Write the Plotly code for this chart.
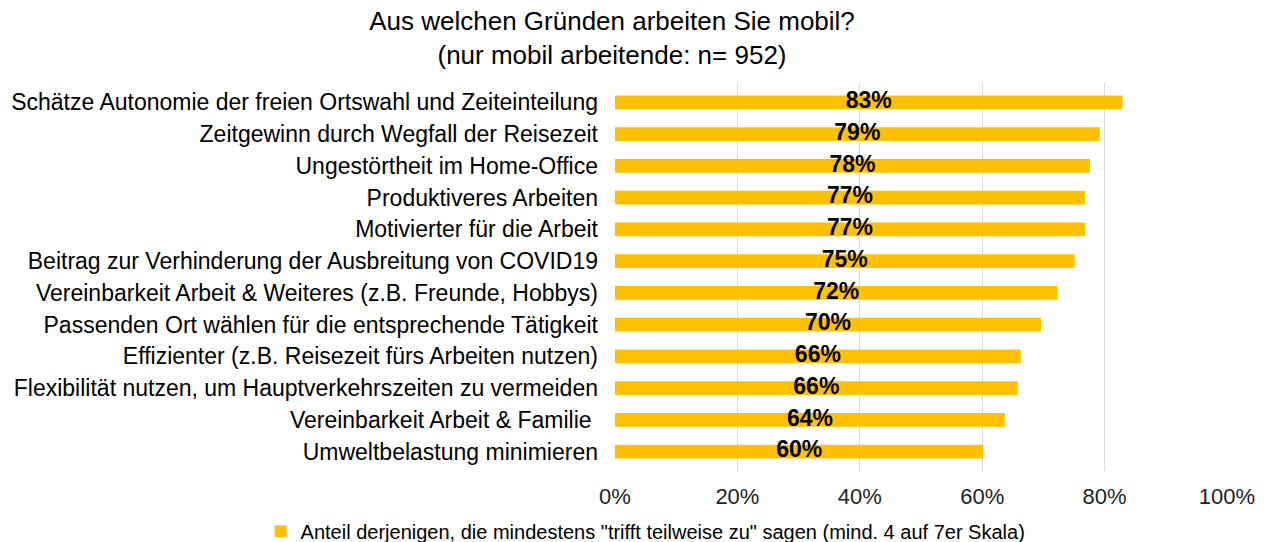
import plotly.graph_objects as go

categories = [
    "Schätze Autonomie der freien Ortswahl und Zeiteinteilung",
    "Zeitgewinn durch Wegfall der Reisezeit",
    "Ungestörtheit im Home-Office",
    "Produktiveres Arbeiten",
    "Motivierter für die Arbeit",
    "Beitrag zur Verhinderung der Ausbreitung von COVID19",
    "Vereinbarkeit Arbeit & Weiteres (z.B. Freunde, Hobbys)",
    "Passenden Ort wählen für die entsprechende Tätigkeit",
    "Effizienter (z.B. Reisezeit fürs Arbeiten nutzen)",
    "Flexibilität nutzen, um Hauptverkehrszeiten zu vermeiden",
    "Vereinbarkeit Arbeit & Familie ",
    "Umweltbelastung minimieren",
]
values = [82.9, 79.2, 77.6, 76.8, 76.8, 75.1, 72.3, 69.6, 66.3, 65.8, 63.7, 60.2]
labels = ["83%", "79%", "78%", "77%", "77%", "75%", "72%", "70%", "66%", "66%", "64%", "60%"]
x_ticks = [0, 20, 40, 60, 80, 100]
x_tick_labels = ["0%", "20%", "40%", "60%", "80%", "100%"]
series_name = 'Anteil derjenigen, die mindestens "trifft teilweise zu" sagen (mind. 4 auf 7er Skala)'
title_text = "Aus welchen Gründen arbeiten Sie mobil?<br>(nur mobil arbeitende: n= 952)"

FONT = "Liberation Sans, Arial, sans-serif"

fig = go.Figure()
fig.add_trace(go.Bar(
    x=values, y=categories, orientation="h",
    marker=dict(color="#FFC000", line=dict(width=0)),
    name=series_name, showlegend=True,
    hoverinfo="x+y",
))
fig.add_trace(go.Scatter(
    x=[v / 2 for v in values], y=categories, mode="text",
    text=labels, textposition="middle center",
    textfont=dict(family=FONT, size=23, color="#000000", weight="bold"),
    showlegend=False, hoverinfo="skip", cliponaxis=False,
))

fig.update_layout(
    width=1266, height=542,
    margin=dict(l=615, r=39, t=83, b=71, autoexpand=False),
    paper_bgcolor="white", plot_bgcolor="white",
    font=dict(family=FONT, color="#000000"),
    title=dict(text=title_text, x=612 / 1266, xanchor="center",
               yref="container", y=1 - 30 / 542, yanchor="middle",
               font=dict(family=FONT, size=26, color="#000000")),
    bargap=0.57,
    showlegend=True,
    legend=dict(orientation="h", x=0.05, xanchor="center", y=-0.155, yanchor="middle",
                font=dict(family=FONT, size=20, color="#000000"),
                itemwidth=30, bgcolor="rgba(0,0,0,0)"),
)
fig.update_xaxes(
    range=[0, 100], tickvals=x_ticks, ticktext=x_tick_labels,
    showgrid=True, gridcolor="#d9d9d9", gridwidth=1,
    zeroline=False, showline=False, ticks="",
    tickfont=dict(family=FONT, size=22, color="#222222"),
    ticklabelstandoff=10, fixedrange=True,
)
fig.update_yaxes(
    categoryorder="array", categoryarray=categories, autorange="reversed",
    showgrid=False, zeroline=False, showline=False, ticks="",
    tickfont=dict(family=FONT, size=23, color="#000000"),
    ticklabelstandoff=16, fixedrange=True,
)

fig.write_html("out.html", config={"displayModeBar": False},
               post_script="document.body.style.margin='0px';")
